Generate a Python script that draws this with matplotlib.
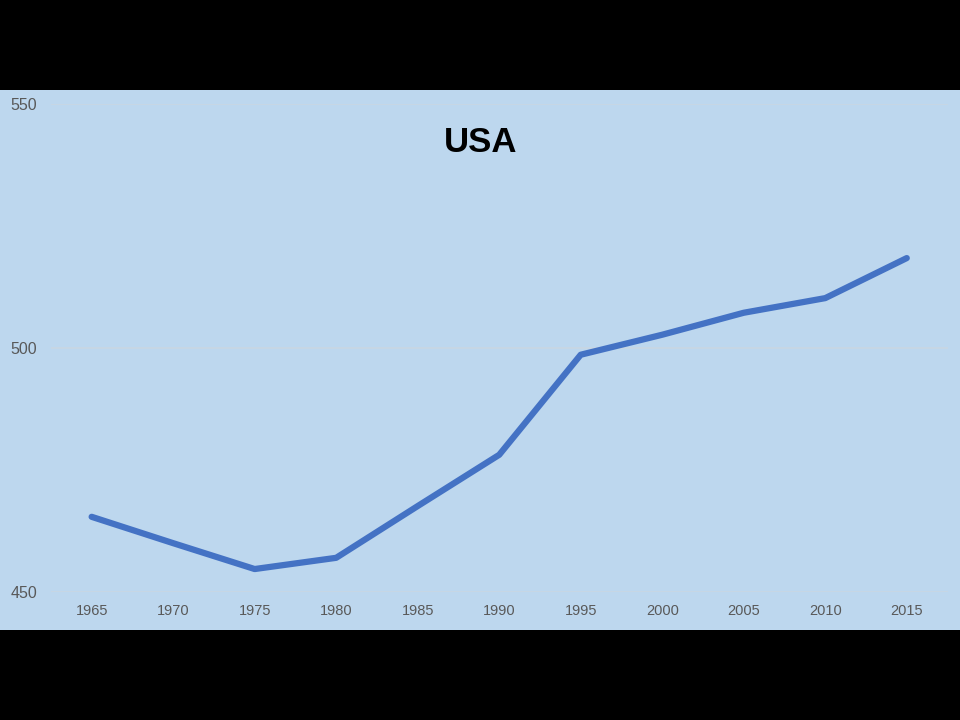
import matplotlib.pyplot as plt

# Datos
anios = ['1965', '1970', '1975', '1980', '1985', '1990', '1995', '2000', '2005', '2010', '2015']
valores = [465.4, 460.0, 454.7, 457.0, 467.6, 478.1, 498.6, 502.7, 507.2, 510.2, 518.4]
marcas_y = [450, 500, 550]

plt.rcParams['font.family'] = ['Liberation Sans', 'DejaVu Sans']

fig = plt.figure(figsize=(9.6, 7.2), dpi=100, facecolor='black')

# Panel azul de fondo
panel = fig.add_axes([0, 0.125, 1, 0.75])
panel.set_facecolor('#BDD7EE')
panel.set_xticks([])
panel.set_yticks([])
for s in panel.spines.values():
    s.set_visible(False)

# Ejes del grafico
ax = fig.add_axes([0.053, 0.1778, 0.934, 0.678])
ax.set_facecolor('none')
x = list(range(len(anios)))
ax.plot(x, valores, color='#4472C4', linewidth=4.5, solid_capstyle='round',
        solid_joinstyle='round', zorder=3)

ax.set_xlim(-0.5, len(anios) - 0.5)
ax.set_ylim(450, 550)
ax.set_xticks(x)
ax.set_xticklabels(anios)
ax.set_yticks(marcas_y)
ax.tick_params(axis='x', length=0, pad=9, labelsize=10.5, labelcolor='#595959')
ax.tick_params(axis='y', length=0, pad=10, labelsize=11.5, labelcolor='#595959')
ax.grid(axis='y', color='#C8D6E4', linewidth=1.3)
for s in ax.spines.values():
    s.set_visible(False)

fig.text(0.501, 1 - 142 / 720, 'USA', ha='center', va='center',
         fontsize=25, fontweight='bold', color='black')

fig.savefig('out.png', dpi=100, facecolor='black')
